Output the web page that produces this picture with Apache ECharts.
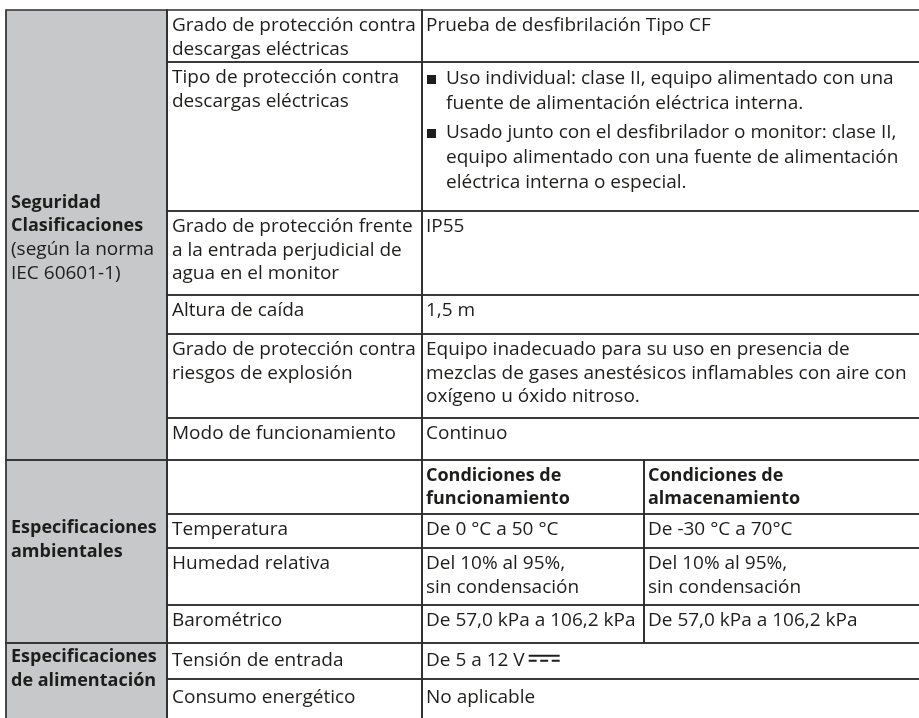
<!DOCTYPE html>
<html><head><meta charset="utf-8">
<script src="https://cdn.jsdelivr.net/npm/echarts@6/dist/echarts.min.js"></script>
<style>html,body{margin:0;padding:0;background:#fff}#main{width:919px;height:718px}</style>
</head><body><div id="main"></div>
<script>
// ---------------- data ----------------
const sectionTitles = ['Seguridad\nClasificaciones', 'Especificaciones\nambientales', 'Especificaciones\nde alimentación'];
const sectionNotes = ['(según la norma\nIEC 60601-1)', '', ''];
const sectionRowSpans = [[0, 6], [6, 10], [10, 12]];
const itemLabels = [
  'Grado de protección contra\ndescargas eléctricas',
  'Tipo de protección contra\ndescargas eléctricas',
  'Grado de protección frente\na la entrada perjudicial de\nagua en el monitor',
  'Altura de caída',
  'Grado de protección contra\nriesgos de explosión',
  'Modo de funcionamiento',
  '',
  'Temperatura',
  'Humedad relativa',
  'Barométrico',
  'Tensión de entrada',
  'Consumo energético'
];
const safetyValues = [
  'Prueba de desfibrilación Tipo CF',
  null,
  'IP55',
  '1,5 m',
  'Equipo inadecuado para su uso en presencia de\nmezclas de gases anestésicos inflamables con aire con\noxígeno u óxido nitroso.',
  'Continuo'
];
const protectionBullets = [
  'Uso individual: clase II, equipo alimentado con una\nfuente de alimentación eléctrica interna.',
  'Usado junto con el desfibrilador o monitor: clase II,\nequipo alimentado con una fuente de alimentación\neléctrica interna o especial.'
];
const conditionHeaders = ['Condiciones de\nfuncionamiento', 'Condiciones de\nalmacenamiento'];
const operatingValues = ['De 0 °C a 50 °C', 'Del 10% al 95%,\nsin condensación', 'De 57,0 kPa a 106,2 kPa'];
const storageValues = ['De -30 °C a 70°C', 'Del 10% al 95%,\nsin condensación', 'De 57,0 kPa a 106,2 kPa'];
const powerValues = ['De 5 a 12 V', 'No aplicable'];
const dcSymbolRow = 10;

// ---------------- layout ----------------
const colEdges = [6, 167, 422, 644, 932];
const rowEdges = [10, 62, 211, 295, 334, 418, 460, 514, 548, 605, 643, 679, 724];
const rowPadTop = [4, 4, 4, 4, 4, 4, 4, 4, 4, 4, 6, 7];
const sectionTextCenter = [238, 540, 669];
const padX = [5, 5, 4, 4];
const FONT = '"Open Sans", sans-serif';
const FS = 19, FSB = 18, LH = 23.5, BLH = 25, PARA_GAP = 4;
const TXT = '#1d1d1b', LINE = '#2e2e2e', GRAY = '#c7c8ca';

// ---------------- build cells ----------------
const cells = [];
sectionTitles.forEach((t, i) => {
  const s = sectionRowSpans[i];
  cells.push({c0: 0, c1: 1, r0: s[0], r1: s[1], kind: 'section', title: t, note: sectionNotes[i], sec: i, fill: GRAY});
});
itemLabels.forEach((t, r) => cells.push({c0: 1, c1: 2, r0: r, r1: r + 1, kind: 'text', text: t, fill: '#fff'}));
safetyValues.forEach((v, r) => {
  if (v === null) cells.push({c0: 2, c1: 4, r0: r, r1: r + 1, kind: 'bullets', paras: protectionBullets, fill: '#fff'});
  else cells.push({c0: 2, c1: 4, r0: r, r1: r + 1, kind: 'text', text: v, fill: '#fff'});
});
conditionHeaders.forEach((h, i) => cells.push({c0: 2 + i, c1: 3 + i, r0: 6, r1: 7, kind: 'text', text: h, bold: true, fill: '#fff'}));
operatingValues.forEach((v, i) => cells.push({c0: 2, c1: 3, r0: 7 + i, r1: 8 + i, kind: 'text', text: v, fill: '#fff'}));
storageValues.forEach((v, i) => cells.push({c0: 3, c1: 4, r0: 7 + i, r1: 8 + i, kind: 'text', text: v, fill: '#fff'}));
powerValues.forEach((v, i) => cells.push({c0: 2, c1: 4, r0: 10 + i, r1: 11 + i, kind: 'text', text: v, dc: (10 + i) === dcSymbolRow, fill: '#fff'}));

const seriesData = cells.map(c => [colEdges[c.c0], rowEdges[c.r0], colEdges[c.c1], rowEdges[c.r1]]);

const measureCtx = document.createElement('canvas').getContext('2d');
function textWidth(t, size, weight) {
  measureCtx.font = (weight || 'normal') + ' ' + size + 'px ' + FONT;
  return measureCtx.measureText(t).width;
}

function renderItem(params, api) {
  const cell = cells[params.dataIndex];
  const p0 = api.coord([api.value(0), api.value(1)]);
  const p1 = api.coord([api.value(2), api.value(3)]);
  const x = p0[0], y = p0[1], w = p1[0] - p0[0], h = p1[1] - p0[1];
  const children = [
    {type: 'rect', shape: {x, y, width: w, height: h}, style: {fill: cell.fill}, z2: 0},
    {type: 'rect', shape: {x, y, width: w, height: h}, style: {fill: null, stroke: LINE, lineWidth: 1.7}, z2: 20}
  ];
  const tx = x + padX[cell.c0];
  const padTop = rowPadTop[cell.r0];
  const base = {fill: TXT, fontFamily: FONT, fontSize: FS, lineHeight: LH, align: 'left'};
  if (cell.kind === 'section') {
    const cy = api.coord([0, sectionTextCenter[cell.sec]])[1];
    let txt = '{b|' + cell.title + '}';
    if (cell.note) txt += '\n{n|' + cell.note + '}';
    children.push({type: 'text', x: tx, y: cy, z2: 10, style: Object.assign({}, base, {
      text: txt, verticalAlign: 'middle',
      rich: {b: {fontFamily: FONT, fontSize: FSB, fontWeight: 'bold', lineHeight: LH, fill: TXT},
             n: {fontFamily: FONT, fontSize: FS, lineHeight: LH, fill: TXT}}
    })});
  } else if (cell.kind === 'bullets') {
    let ty = y + padTop;
    cell.paras.forEach(p => {
      children.push({type: 'rect', z2: 10, shape: {x: x + 5, y: ty + BLH / 2 - 3.5, width: 9, height: 9}, style: {fill: TXT}});
      children.push({type: 'text', x: x + 24, y: ty, z2: 10, style: Object.assign({}, base, {text: p, lineHeight: BLH, verticalAlign: 'top'})});
      ty += p.split('\n').length * BLH + PARA_GAP;
    });
  } else {
    const st = Object.assign({}, base, {text: cell.text, verticalAlign: 'top'});
    if (cell.bold) { st.fontWeight = 'bold'; st.fontSize = FSB; }
    children.push({type: 'text', x: tx, y: y + padTop, z2: 10, style: st});
    if (cell.dc) {
      const sx = tx + textWidth(cell.text, FS) + 4;
      const sy = y + padTop + LH / 2 - 6;
      children.push({type: 'rect', z2: 10, shape: {x: sx, y: sy, width: 31, height: 2}, style: {fill: TXT}});
      for (let k = 0; k < 3; k++) {
        children.push({type: 'rect', z2: 10, shape: {x: sx + k * 11.5, y: sy + 5, width: 8, height: 2}, style: {fill: TXT}});
      }
    }
  }
  return {type: 'group', children};
}

const chart = echarts.init(document.getElementById('main'), null, {renderer: 'canvas'});
chart.setOption({
  animation: false,
  grid: {left: 0, right: 0, top: 0, bottom: 0},
  xAxis: {type: 'value', min: 0, max: 919, show: false},
  yAxis: {type: 'value', min: 0, max: 718, inverse: true, show: false},
  series: [{type: 'custom', renderItem, data: seriesData, clip: false, silent: true}]
});
</script></body></html>
